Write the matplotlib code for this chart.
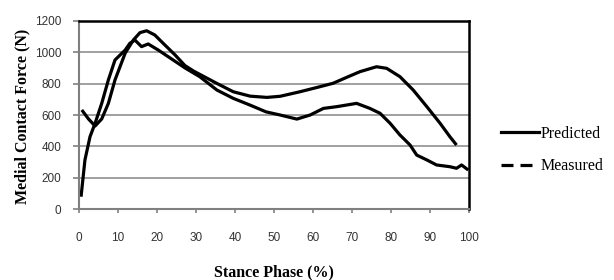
import matplotlib.pyplot as plt
from matplotlib.lines import Line2D

# values
pred_x = [0.8, 2.5, 4.2, 5.9, 7.6, 9.3, 11.9, 14.0, 15.7, 17.4, 19.5, 22.1, 24.7,
          27.2, 29.4, 35.4, 39.6, 43.9, 48.2, 51.6, 56.7, 61.8, 65.2, 68.7, 72.1,
          76.3, 78.9, 82.3, 85.7, 89.2, 92.6, 95.1, 96.8]
pred_y = [632, 575, 530, 575, 674, 823, 993, 1077, 1124, 1136, 1109, 1045, 982,
          915, 880, 801, 748, 720, 712, 719, 748, 780, 802, 840, 876,
          907, 897, 844, 759, 653, 547, 462, 409]

meas_x = [0.6, 1.6, 2.9, 4.2, 5.9, 7.6, 9.3, 11.9, 13.1, 14.4, 16.1, 17.8, 20.4,
          27.2, 31.0, 35.4, 39.6, 43.9, 48.0, 51.6, 55.9, 59.3, 62.7, 66.1, 71.2,
          74.6, 77.2, 79.8, 82.3, 84.9, 86.6, 89.2, 91.7, 95.1, 96.8, 98.1, 99.8]
meas_y = [80, 314, 462, 547, 674, 823, 950, 1013, 1056, 1077, 1035, 1052, 1013,
          900, 844, 759, 706, 663, 620, 600, 574, 600, 642, 653, 674,
          642, 611, 547, 473, 409, 345, 314, 282, 271, 261, 282, 250]

x_ticks = list(range(0, 101, 10))
y_ticks = list(range(0, 1201, 200))

tick_font = ["Liberation Sans", "DejaVu Sans"]
serif = ["Liberation Serif", "DejaVu Serif"]

fig = plt.figure(figsize=(6.14, 2.8), dpi=100)
ax = fig.add_axes([78.7 / 614, 1 - 209.3 / 280, (469 - 78.7) / 614, (209.3 - 20.7) / 280])

ax.plot(pred_x, pred_y, color="black", lw=2.3, solid_capstyle="butt", solid_joinstyle="round")
ax.plot(meas_x, meas_y, color="black", lw=2.3, solid_capstyle="butt", solid_joinstyle="round")

ax.set_xlim(0, 100)
ax.set_ylim(0, 1200)
ax.set_xticks(x_ticks)
ax.set_yticks(y_ticks)
ax.set_xticklabels([str(v) for v in x_ticks], family=tick_font, fontsize=8.5, color="#333333")
ax.set_yticklabels([str(v) for v in y_ticks], family=tick_font, fontsize=8.5, color="#333333")
ax.tick_params(axis="x", direction="out", length=3, width=1.2, color="#808080", pad=13)
ax.tick_params(axis="y", direction="out", length=4, width=1.2, color="#808080", pad=8.5)

ax.grid(axis="y", color="#999999", lw=1.3)
ax.set_axisbelow(True)
for side in ("left", "bottom"):
    ax.spines[side].set_color("#808080")
    ax.spines[side].set_linewidth(1.5)
for side in ("top", "right"):
    ax.spines[side].set_color("black")
    ax.spines[side].set_linewidth(1.8)

fig.text(22.5 / 614, 1 - 116.5 / 280, "Medial Contact Force (N)", rotation=90,
         ha="center", va="center", family=serif, fontweight="bold", fontsize=11.5)
fig.text(274 / 614, 1 - 272.5 / 280, "Stance Phase (%)", ha="center", va="center",
         family=serif, fontweight="bold", fontsize=11.5)

handles = [Line2D([], [], color="black", lw=2.3),
           Line2D([], [], color="black", lw=2.3, dashes=(3.75, 2.2))]
fig.legend(handles, ["Predicted", "Measured"], loc="center left",
           bbox_to_anchor=(487 / 614, 1 - 150 / 280), frameon=False,
           prop={"family": serif, "size": 11.5}, handlelength=2.35,
           handletextpad=0.1, labelspacing=1.05)

fig.savefig("out.png", dpi=100)
